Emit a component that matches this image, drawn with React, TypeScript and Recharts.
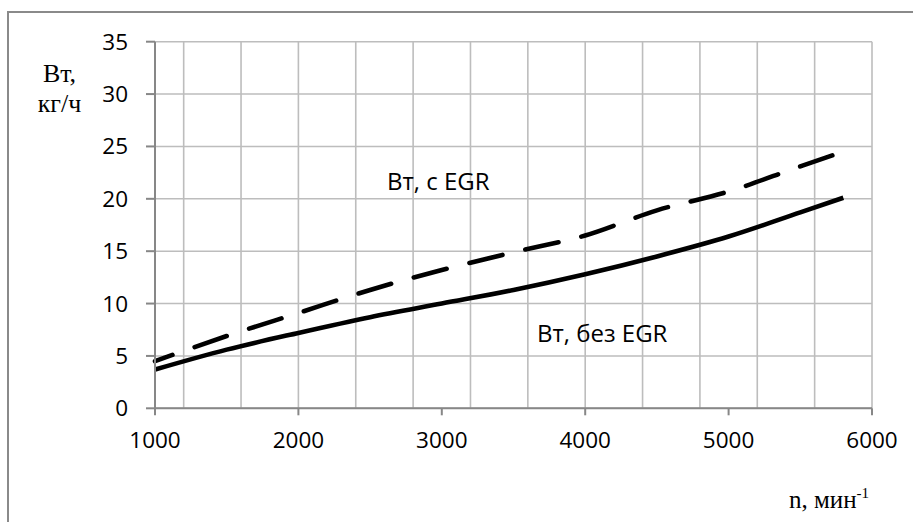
import React from "react";
import { LineChart, Line, XAxis, YAxis, CartesianGrid } from "recharts";

const rpm = [1000, 1500, 2000, 2500, 3000, 3500, 4000, 4500, 5000, 5500, 5800];
const withEgr = [4.5, 6.9, 9.1, 11.3, 13.2, 14.9, 16.5, 18.9, 20.7, 23.1, 24.5];
const withoutEgr = [3.7, 5.6, 7.2, 8.7, 10.0, 11.3, 12.8, 14.5, 16.4, 18.7, 20.1];

const xTicks = [1000, 2000, 3000, 4000, 5000, 6000];
const xGrid = [1000, 1200, 1400, 1600, 1800, 2000, 2200, 2400, 2600, 2800, 3000, 3200, 3400, 3600, 3800, 4000, 4200, 4400, 4600, 4800, 5000, 5200, 5400, 5600, 5800, 6000];
const yTicks = [0, 5, 10, 15, 20, 25, 30, 35];

const data = rpm.map((n, i) => ({ n, egr: withEgr[i], noEgr: withoutEgr[i] }));

const FONT = "'Open Sans', Lato, sans-serif";
const SERIF = "'Liberation Serif', 'DejaVu Serif', serif";

export default function App() {
  return (
    <div style={{ position: "absolute", left: 0, top: 0, width: 913, height: 522, background: "#fff", overflow: "hidden" }}>
      <div style={{ position: "absolute", left: 7, top: 11, width: 1000, height: 1000, borderLeft: "2px solid #8a8a8a", borderTop: "2px solid #8a8a8a" }} />
      <LineChart width={913} height={522} data={data} margin={{ top: 41.7, right: 41, bottom: 0, left: 0 }}>
        <CartesianGrid stroke="#bdbdbd" strokeWidth={1.6} verticalValues={xGrid} horizontalValues={yTicks} />
        <XAxis
          dataKey="n"
          type="number"
          domain={[1000, 6000]}
          ticks={xTicks}
          height={113.7}
          stroke="#878787"
          strokeWidth={2}
          tickSize={7}
          tickMargin={17}
          tick={{ fill: "#000", fontSize: 22.5, fontFamily: FONT }}
        />
        <YAxis
          type="number"
          domain={[0, 35]}
          ticks={yTicks}
          width={155}
          stroke="#878787"
          strokeWidth={2}
          tickSize={9}
          tickMargin={18}
          tick={{ fill: "#000", fontSize: 22.5, fontFamily: FONT }}
        />
        <Line dataKey="noEgr" type="monotone" stroke="#000" strokeWidth={4.6} dot={false} isAnimationActive={false} />
        <Line dataKey="egr" type="monotone" stroke="#000" strokeWidth={4.6} strokeDasharray="34 23.5" strokeDashoffset={15.5} strokeLinecap="round" dot={false} isAnimationActive={false} />
      </LineChart>
      <svg width={913} height={522} style={{ position: "absolute", left: 0, top: 0, pointerEvents: "none" }}>
        <text x={59.5} y={82} textAnchor="middle" fontFamily={SERIF} fontSize={26} fill="#000">Вт,</text>
        <text x={59.5} y={112} textAnchor="middle" fontFamily={SERIF} fontSize={26} fill="#000">кг/ч</text>
        <text x={789} y={507.7} fontFamily={SERIF} fontSize={25} fill="#000">
          n, мин<tspan fontSize={15} dy={-10}>-1</tspan>
        </text>
        <text x={387} y={190} fontFamily={FONT} fontSize={24} fill="#000">Вт, с EGR</text>
        <text x={537} y={342} fontFamily={FONT} fontSize={24} fill="#000">Вт, без EGR</text>
      </svg>
    </div>
  );
}
